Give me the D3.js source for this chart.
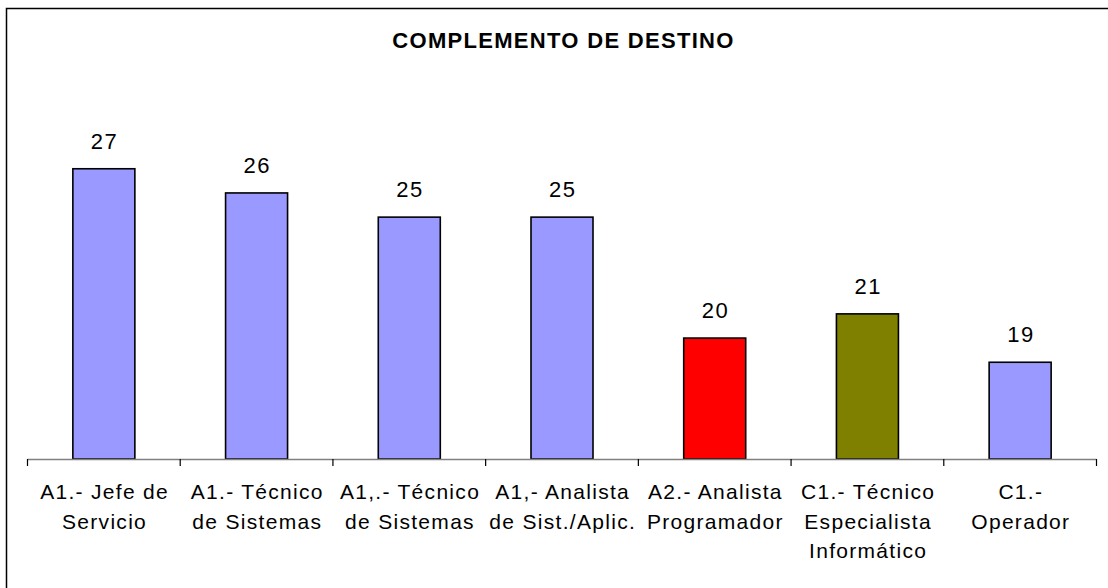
<!DOCTYPE html>
<html>
<head>
<meta charset="utf-8">
<script src="https://cdn.jsdelivr.net/npm/d3@7"></script>
<style>
  body { margin: 0; background: #fff; }
  text { font-family: "Liberation Sans", Arial, sans-serif; fill: #000; }
</style>
</head>
<body>
<div id="chart"></div>
<script>
// Chart data
const categories = [
    ["A1.- Jefe de", "Servicio"],
    ["A1.- Técnico", "de Sistemas"],
    ["A1,.- Técnico", "de Sistemas"],
    ["A1,- Analista", "de Sist./Aplic."],
    ["A2.- Analista", "Programador"],
    ["C1.- Técnico", "Especialista", "Informático"],
    ["C1.-", "Operador"]
];
const values = [27, 26, 25, 25, 20, 21, 19];
const barColors = ["#9999FF", "#9999FF", "#9999FF", "#9999FF", "#FF0000", "#808000", "#9999FF"];
const title = "COMPLEMENTO DE DESTINO";

const width = 1108, height = 588;
const plot = { left: 27.5, right: 1096.5, top: 96.2, bottom: 459 };

const svg = d3.select("#chart").append("svg")
    .attr("width", width)
    .attr("height", height);

// Outer frame (right/bottom edges fall outside the picture)
svg.append("rect")
    .attr("x", 6.5).attr("y", 8.5)
    .attr("width", width + 10).attr("height", height + 10)
    .attr("fill", "none")
    .attr("stroke", "#000")
    .attr("stroke-width", 1.5);

const idx = d3.range(values.length);
const inner = 0.594;
const x = d3.scaleBand()
    .domain(idx)
    .range([plot.left, plot.right])
    .paddingInner(inner)
    .paddingOuter(inner / 2);

const y = d3.scaleLinear()
    .domain([15, 30])
    .range([plot.bottom, plot.top]);

// Title
svg.append("text")
    .attr("x", 563.5)
    .attr("y", 47.5)
    .attr("text-anchor", "middle")
    .attr("font-size", "22px")
    .attr("font-weight", "bold")
    .attr("letter-spacing", "1.3px")
    .text(title);

// Bars
svg.selectAll("rect.bar")
    .data(idx)
    .enter().append("rect")
    .attr("class", "bar")
    .attr("x", i => x(i))
    .attr("y", i => y(values[i]))
    .attr("width", x.bandwidth())
    .attr("height", i => y(15) - y(values[i]))
    .attr("fill", i => barColors[i])
    .attr("stroke", "#000")
    .attr("stroke-width", 1.6);

// Value labels
svg.selectAll("text.value")
    .data(idx)
    .enter().append("text")
    .attr("class", "value")
    .attr("x", i => x(i) + x.bandwidth() / 2 + 0.75)
    .attr("y", i => y(values[i]) - 20)
    .attr("text-anchor", "middle")
    .attr("font-size", "22px")
    .attr("letter-spacing", "1.5px")
    .text(i => values[i]);

// Category axis
const gap = (x.step() - x.bandwidth()) / 2;
const axis = svg.append("g");
axis.append("line")
    .attr("x1", plot.left).attr("x2", plot.right)
    .attr("y1", plot.bottom + 0.5).attr("y2", plot.bottom + 0.5)
    .attr("stroke", "#808080")
    .attr("stroke-width", 1.5);

const tickX = idx.map(i => x(i) - gap).concat([plot.right]);
axis.selectAll("line.tick")
    .data(tickX)
    .enter().append("line")
    .attr("class", "tick")
    .attr("x1", d => d).attr("x2", d => d)
    .attr("y1", plot.bottom).attr("y2", plot.bottom + 7)
    .attr("stroke", "#000")
    .attr("stroke-width", 1.2);

const labels = axis.selectAll("text.cat")
    .data(idx)
    .enter().append("text")
    .attr("class", "cat")
    .attr("text-anchor", "middle")
    .attr("font-size", "21px")
    .attr("letter-spacing", "1.3px")
    .attr("transform", i => `translate(${x(i) + x.bandwidth() / 2 + 0.7}, 499)`);

labels.selectAll("tspan")
    .data(i => categories[i])
    .enter().append("tspan")
    .attr("x", 0)
    .attr("y", (d, j) => j * 29.5)
    .text(d => d);
</script>
</body>
</html>
